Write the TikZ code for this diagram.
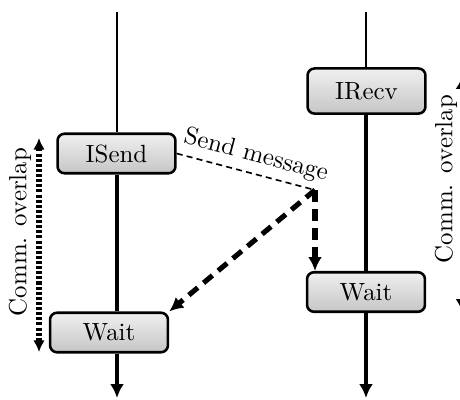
\documentclass[tikz,border=0pt]{standalone}
\usetikzlibrary{arrows.meta}
\begin{document}
\begin{tikzpicture}[x=0.43pt,y=-0.43pt,
  box/.style={draw,line width=1.1pt,rounded corners=3pt,top color=gray!12,bottom color=gray!45,
    minimum width=50.7pt,minimum height=17pt,inner sep=0pt,lbl},
  thinline/.style={line width=0.6pt},
  thickline/.style={line width=1.8pt},
  tip/.style={-{Latex[length=6pt,width=6pt]}},
  msgline/.style={line width=0.7pt,dash pattern=on 2.6pt off 1.8pt},
  bigdash/.style={line width=2.2pt,dash pattern=on 5pt off 3.2pt,-{Latex[length=6pt,width=6pt]}},
  overlap/.style={line width=2.2pt,dash pattern=on 1.3pt off 0.9pt,{Latex[length=5pt,width=5pt]}-{Latex[length=5pt,width=5pt]}},
  lbl/.style={font=\fontsize{10.7}{13}\selectfont}]
\clip (0,0) rectangle (460,399);
% boxes
\node[box] (isend) at (116.5,153.5) {ISend};
\node[box] (wait1) at (109,332.5) {Wait};
\node[box,minimum height=19.4pt] (irecv) at (366.5,91) {IRecv};
\node[box] (wait2) at (366,292) {Wait};
% left process
\coordinate (t1) at (117,12);
\coordinate (b1) at (117,398);
\draw[thinline] (t1) -- (t1 |- isend.north);
\draw[thickline] (t1 |- isend.south) -- (t1 |- wait1.north);
\draw[thickline,tip] (t1 |- wait1.south) -- (b1);
% right process
\coordinate (t2) at (366,12);
\coordinate (b2) at (366,398);
\draw[thinline] (t2) -- (t2 |- irecv.north);
\draw[thickline] (t2 |- irecv.south) -- (t2 |- wait2.north);
\draw[thickline,tip] (t2 |- wait2.south) -- (b2);
% message
\coordinate (c) at (315,190);
\draw[msgline] (isend.east) -- node[above,sloped,inner sep=2.5pt,pos=0.54,lbl] {Send message} (c);
\draw[bigdash] (c) -- (wait1.north east);
\draw[bigdash] (c) -- (c |- wait2.north);
% overlap markers
\coordinate (d1) at (39,138);
\coordinate (d2) at (39,352);
\draw[overlap] (d1) -- (d2);
\node[rotate=90,lbl] (ov1) at (20,232) {Comm. overlap};
\coordinate (d3) at (462.5,75);
\coordinate (d4) at (462.5,313);
\draw[overlap,line width=1.2pt,{Latex[length=6pt,width=6pt]}-{Latex[length=6pt,width=6pt]}] (d3) -- (d4);
\node[rotate=90,lbl] (ov2) at (446,179) {Comm. overlap};
\end{tikzpicture}
\end{document}
